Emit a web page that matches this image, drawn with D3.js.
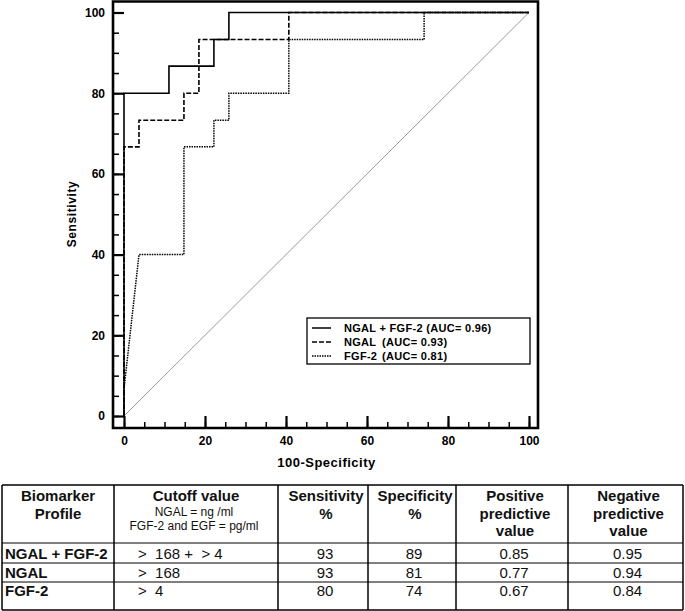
<!DOCTYPE html>
<html>
<head>
<meta charset="utf-8">
<script src="https://cdn.jsdelivr.net/npm/d3@7"></script>
<style>
  body { margin: 0; background: #fff; }
  svg { font-family: "Liberation Sans", Arial, Helvetica, sans-serif; }
  .axis text { font-weight: bold; font-size: 12px; fill: #000; }
  .axis line { stroke: #000; }
  .lg text { font-size: 11px; font-weight: bold; letter-spacing: 0.3px; }
  .cell { font-size: 15px; fill: #111; }
  .hd { font-weight: bold; }
  .sm { font-size: 12px; }
</style>
</head>
<body>
<div id="chart"></div>
<script>
// ROC curves, x = 100-Specificity, y = Sensitivity
var comboX = [0, 0, 11.1, 11.1, 22.2, 22.2, 25.9, 25.9, 100];
var comboY = [0, 80, 80, 86.7, 86.7, 93.3, 93.3, 100, 100];
var ngalX = [0, 0, 3.7, 3.7, 14.8, 14.8, 18.5, 18.5, 40.7, 40.7, 100];
var ngalY = [0, 66.7, 66.7, 73.3, 73.3, 80, 80, 93.3, 93.3, 100, 100];
var fgfX = [0, 0, 3.7, 14.8, 14.8, 22.2, 22.2, 25.9, 25.9, 40.7, 40.7, 74.1, 74.1, 100];
var fgfY = [0, 6.7, 40, 40, 66.7, 66.7, 73.3, 73.3, 80, 80, 93.3, 93.3, 100, 100];

var majorTicks = [0, 20, 40, 60, 80, 100];
var minorTicks = d3.range(0, 101, 5);

var legendNames = ["NGAL + FGF-2 (AUC= 0.96)", "NGAL", "FGF-2"];
var legendAuc = ["", "(AUC= 0.93)", "(AUC= 0.81)"];
var legendDash = [null, "5,2", "1.5,1"];

// table
var headers = [
  ["Biomarker", "Profile"],
  ["Cutoff value"],
  ["Sensitivity", "%"],
  ["Specificity", "%"],
  ["Positive", "predictive", "value"],
  ["Negative", "predictive", "value"]
];
var cutoffUnits = ["NGAL = ng /ml", "FGF-2 and EGF = pg/ml"];
var profiles = ["NGAL + FGF-2", "NGAL", "FGF-2"];
var cutoffs = [">  168 +  > 4", ">  168", ">  4"];
var sensitivity = ["93", "93", "80"];
var specificity = ["89", "81", "74"];
var ppv = ["0.85", "0.77", "0.67"];
var npv = ["0.95", "0.94", "0.84"];

var W = 685, H = 611;
var svg = d3.select("#chart").append("svg")
  .attr("width", W)
  .attr("height", H);

var x = d3.scaleLinear().domain([0, 100]).range([124, 529]);
var y = d3.scaleLinear().domain([0, 100]).range([416, 12.5]);
var axX = 113, axY = 428, topY = 1.5, rightX = 538;

// minor ticks (no labels)
svg.append("g")
  .attr("class", "axis")
  .attr("transform", "translate(" + axX + ",0)")
  .call(d3.axisLeft(y).tickValues(minorTicks).tickSize(-6).tickFormat(""))
  .call(function(g) { g.select(".domain").remove(); })
  .selectAll("line").attr("stroke-width", 1.5);
svg.append("g")
  .attr("class", "axis")
  .attr("transform", "translate(0," + axY + ")")
  .call(d3.axisBottom(x).tickValues(minorTicks).tickSize(-6).tickFormat(""))
  .call(function(g) { g.select(".domain").remove(); })
  .selectAll("line").attr("stroke-width", 1.5);

// major ticks with labels
svg.append("g")
  .attr("class", "axis")
  .attr("transform", "translate(" + axX + ",0)")
  .call(d3.axisLeft(y).tickValues(majorTicks).tickSize(-(x(0) - axX)).tickPadding(8))
  .call(function(g) { g.select(".domain").remove(); })
  .selectAll("line").attr("stroke-width", 2.2);
svg.append("g")
  .attr("class", "axis")
  .attr("transform", "translate(0," + axY + ")")
  .call(d3.axisBottom(x).tickValues(majorTicks).tickSize(-(axY - y(0))).tickPadding(8))
  .call(function(g) { g.select(".domain").remove(); })
  .selectAll("line").attr("stroke-width", 2.2);

// frame
svg.append("path")
  .attr("d", "M" + axX + "," + axY + "H" + rightX + "V" + topY + "H" + axX + "Z")
  .attr("fill", "none")
  .attr("stroke", "#000")
  .attr("stroke-width", 2.6);

// axis titles
svg.append("text")
  .attr("x", (x(0) + x(100)) / 2)
  .attr("y", 467)
  .attr("text-anchor", "middle")
  .style("font-weight", "bold")
  .style("font-size", "13px")
  .style("letter-spacing", "0.5px")
  .text("100-Specificity");
svg.append("text")
  .attr("transform", "translate(76," + 214 + ") rotate(-90)")
  .attr("text-anchor", "middle")
  .style("font-weight", "bold")
  .style("font-size", "12px")
  .style("letter-spacing", "0.6px")
  .text("Sensitivity");

// reference diagonal
svg.append("line")
  .attr("x1", x(0)).attr("y1", y(0))
  .attr("x2", x(100)).attr("y2", y(100))
  .attr("stroke", "#9a9a9a")
  .attr("stroke-width", 1);

var line = d3.line()
  .x(function(d) { return x(d[0]); })
  .y(function(d) { return y(d[1]); });

var curves = [
  {xs: fgfX, ys: fgfY, dash: legendDash[2], w: 1.5},
  {xs: ngalX, ys: ngalY, dash: legendDash[1], w: 1.6},
  {xs: comboX, ys: comboY, dash: legendDash[0], w: 1.6}
];
curves.forEach(function(c) {
  svg.append("path")
    .datum(d3.zip(c.xs, c.ys))
    .attr("fill", "none")
    .attr("stroke", "#000")
    .attr("stroke-width", c.w)
    .attr("stroke-dasharray", c.dash)
    .attr("d", line);
});

// legend
var lg = svg.append("g").attr("class", "lg");
lg.append("rect")
  .attr("x", 307).attr("y", 318)
  .attr("width", 223).attr("height", 46)
  .attr("fill", "#fff")
  .attr("stroke", "#000")
  .attr("stroke-width", 1.3);
legendNames.forEach(function(name, i) {
  var ly = 328 + i * 14;
  lg.append("line")
    .attr("x1", 312).attr("x2", 331)
    .attr("y1", ly).attr("y2", ly)
    .attr("stroke", "#000")
    .attr("stroke-width", 1.5)
    .attr("stroke-dasharray", legendDash[i]);
  lg.append("text")
    .attr("x", 344).attr("y", ly + 4)
    .text(name);
  if (legendAuc[i]) {
    lg.append("text")
      .attr("x", 382).attr("y", ly + 4)
      .text(legendAuc[i]);
  }
});

// table
var colX = [2, 114, 278, 368, 456, 568, 683];
var rowY = [485, 543, 563, 582, 610];
var tb = svg.append("g");

tb.selectAll(".hline").data(rowY)
  .enter().append("line")
  .attr("x1", colX[0]).attr("x2", colX[6])
  .attr("y1", function(d) { return d; })
  .attr("y2", function(d) { return d; })
  .attr("stroke", "#000")
  .attr("stroke-width", function(d, i) { return (i == 0 || i == rowY.length - 1) ? 1.6 : 1.1; });
tb.selectAll(".vline").data(colX)
  .enter().append("line")
  .attr("x1", function(d) { return d; })
  .attr("x2", function(d) { return d; })
  .attr("y1", rowY[0]).attr("y2", rowY[rowY.length - 1])
  .attr("stroke", "#000")
  .attr("stroke-width", 1.5);

function colCenter(i) { return (colX[i] + colX[i + 1]) / 2; }

var headerLineY = [501, 519, 536];
headers.forEach(function(lines, c) {
  lines.forEach(function(t, k) {
    tb.append("text")
      .attr("class", "cell hd")
      .attr("x", colCenter(c) + (c >= 2 ? 3 : 0))
      .attr("y", headerLineY[k])
      .attr("text-anchor", "middle")
      .text(t);
  });
});
cutoffUnits.forEach(function(t, k) {
  tb.append("text")
    .attr("class", "cell sm")
    .attr("x", colCenter(1) - 2)
    .attr("y", 516 + k * 14)
    .attr("text-anchor", "middle")
    .text(t);
});

var baseY = [559, 578, 596];
var valueCols = [sensitivity, specificity, ppv, npv];
profiles.forEach(function(p, r) {
  tb.append("text")
    .attr("class", "cell hd")
    .attr("x", 5).attr("y", baseY[r])
    .text(p);
  tb.append("text")
    .attr("class", "cell")
    .attr("x", 138).attr("y", baseY[r])
    .attr("xml:space", "preserve")
    .style("white-space", "pre")
    .text(cutoffs[r]);
  valueCols.forEach(function(vals, c) {
    tb.append("text")
      .attr("class", "cell")
      .attr("x", colCenter(c + 2) + 2)
      .attr("y", baseY[r])
      .attr("text-anchor", "middle")
      .text(vals[r]);
  });
});
</script>
</body>
</html>
